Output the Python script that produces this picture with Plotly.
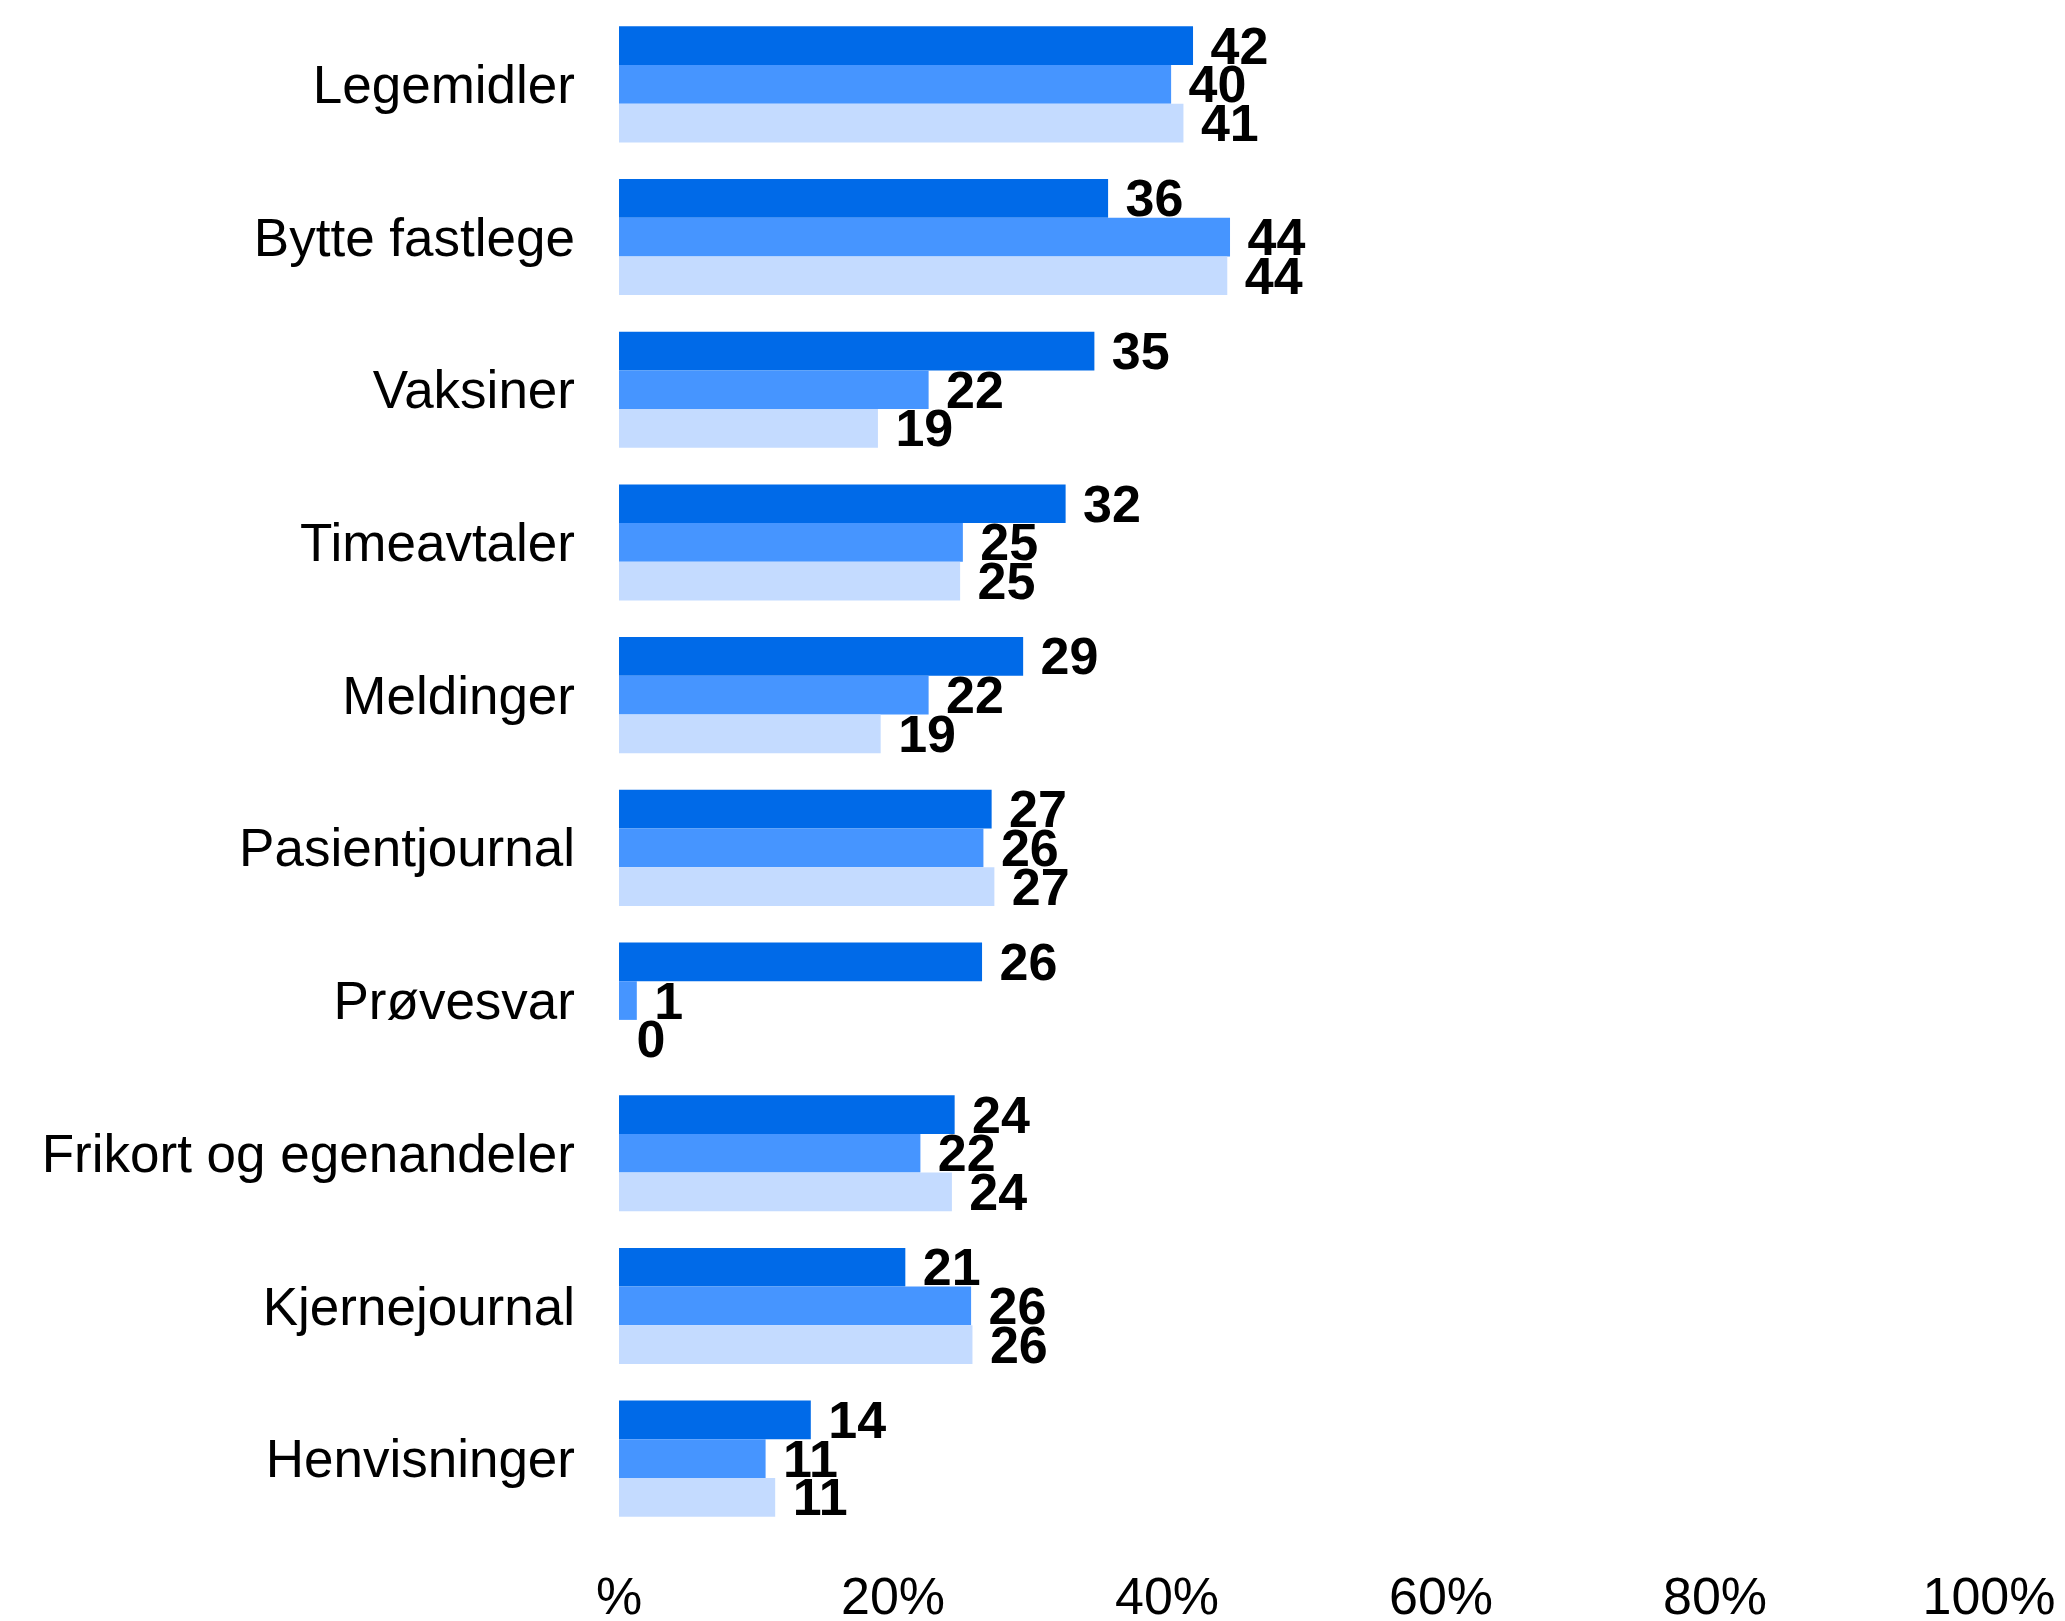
import plotly.graph_objects as go

categories = ["Legemidler", "Bytte fastlege", "Vaksiner", "Timeavtaler", "Meldinger",
              "Pasientjournal", "Prøvesvar", "Frikort og egenandeler", "Kjernejournal", "Henvisninger"]

series_names = ["Serie 1", "Serie 2", "Serie 3"]

series1 = [41.9, 35.7, 34.7, 32.6, 29.5, 27.2, 26.5, 24.5, 20.9, 14.0]
series2 = [40.3, 44.6, 22.6, 25.1, 22.6, 26.6, 1.3, 22.0, 25.7, 10.7]
series3 = [41.2, 44.4, 18.9, 24.9, 19.1, 27.4, 0.0, 24.3, 25.8, 11.4]

labels1 = ["42", "36", "35", "32", "29", "27", "26", "24", "21", "14"]
labels2 = ["40", "44", "22", "25", "22", "26", "1", "22", "26", "11"]
labels3 = ["41", "44", "19", "25", "19", "27", "0", "24", "26", "11"]

tick_vals = [0, 20, 40, 60, 80, 100]
tick_text = ["%", "20%", "40%", "60%", "80%", "100%"]

colors = ["#006AE8", "#4695FF", "#C4DBFF"]

FONT = "Liberation Sans, Arial, sans-serif"

fig = go.Figure()
for name, vals, labs, col in zip(series_names, [series1, series2, series3],
                                 [labels1, labels2, labels3], colors):
    fig.add_trace(go.Bar(
        y=categories, x=vals, name=name, orientation="h",
        marker=dict(color=col, line=dict(width=0)),
        text=["\u00a0" + t for t in labs],
        textposition="outside",
        textfont=dict(family=FONT, size=52, color="#000000", weight="bold"),
        constraintext="none",
        cliponaxis=False,
        hoverinfo="skip",
    ))

fig.update_layout(
    width=2065, height=1621,
    barmode="group",
    bargap=0.24,
    bargroupgap=0,
    showlegend=False,
    paper_bgcolor="white",
    plot_bgcolor="white",
    margin=dict(l=611, r=84, t=0, b=94, autoexpand=False),
    font=dict(family=FONT, size=53, color="#000000"),
    xaxis=dict(range=[0, 100], tickvals=tick_vals, ticktext=tick_text,
               showgrid=False, zeroline=False, showline=False, automargin=False,
               tickfont=dict(family=FONT, size=52, color="#000000"),
               ticklabelstandoff=26),
    yaxis=dict(autorange="reversed", showgrid=False, zeroline=False, showline=False,
               automargin=False,
               tickfont=dict(family=FONT, size=53, color="#000000"),
               ticklabelstandoff=43),
)

fig.write_html("out.html")
